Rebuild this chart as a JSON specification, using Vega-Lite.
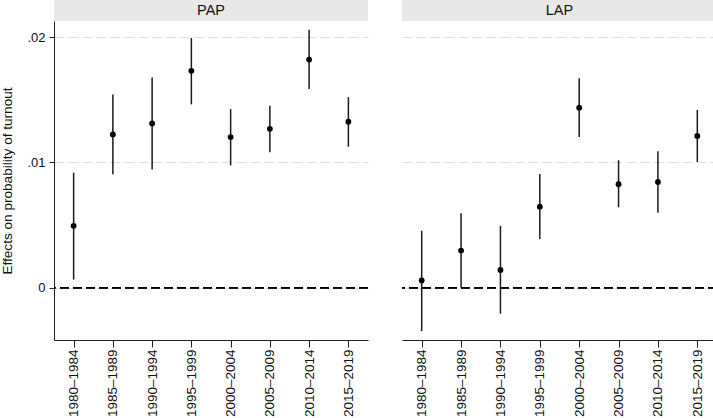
{
  "$schema": "https://vega.github.io/schema/vega-lite/v6.json",
  "padding": 0,
  "background": "white",
  "config": {
    "font": "Liberation Sans",
    "view": {"stroke": null},
    "concat": {"spacing": 32},
    "axis": {
      "labelFont": "Liberation Sans",
      "titleFont": "Liberation Sans",
      "labelFontSize": 13,
      "titleFontSize": 13.6,
      "titleFontWeight": "normal",
      "labelColor": "#111",
      "titleColor": "#111",
      "domainColor": "#222",
      "tickColor": "#222",
      "domainWidth": 1,
      "tickWidth": 1
    }
  },
  "datasets": {
    "d": [
      {"panel": "PAP", "period": "1980–1984", "est": 0.00494, "lo": 0.00064, "hi": 0.00919},
      {"panel": "PAP", "period": "1985–1989", "est": 0.01224, "lo": 0.00906, "hi": 0.01543},
      {"panel": "PAP", "period": "1990–1994", "est": 0.01312, "lo": 0.00943, "hi": 0.01679},
      {"panel": "PAP", "period": "1995–1999", "est": 0.01732, "lo": 0.01464, "hi": 0.01994},
      {"panel": "PAP", "period": "2000–2004", "est": 0.01203, "lo": 0.00977, "hi": 0.01426},
      {"panel": "PAP", "period": "2005–2009", "est": 0.01269, "lo": 0.01081, "hi": 0.01453},
      {"panel": "PAP", "period": "2010–2014", "est": 0.01822, "lo": 0.01586, "hi": 0.02061},
      {"panel": "PAP", "period": "2015–2019", "est": 0.01325, "lo": 0.01126, "hi": 0.01522},
      {"panel": "LAP", "period": "1980–1984", "est": 0.00058, "lo": -0.00347, "hi": 0.00455},
      {"panel": "LAP", "period": "1985–1989", "est": 0.00296, "lo": 0.0, "hi": 0.00594},
      {"panel": "LAP", "period": "1990–1994", "est": 0.00141, "lo": -0.00208, "hi": 0.00493},
      {"panel": "LAP", "period": "1995–1999", "est": 0.00647, "lo": 0.00389, "hi": 0.00908},
      {"panel": "LAP", "period": "2000–2004", "est": 0.01438, "lo": 0.01204, "hi": 0.01673},
      {"panel": "LAP", "period": "2005–2009", "est": 0.00826, "lo": 0.00642, "hi": 0.01018},
      {"panel": "LAP", "period": "2010–2014", "est": 0.00844, "lo": 0.00599, "hi": 0.01089},
      {"panel": "LAP", "period": "2015–2019", "est": 0.01212, "lo": 0.01004, "hi": 0.01419}
    ],
    "h": [{"panel": "PAP"}, {"panel": "LAP"}]
  },
  "hconcat": [
    {
      "spacing": 0,
      "vconcat": [
        {
          "width": 314,
          "height": 21,
          "view": {"fill": "#e8e8e8", "stroke": null},
          "data": {"name": "h"},
          "transform": [{"filter": "datum.panel == 'PAP'"}],
          "mark": {"type": "text", "fontSize": 14.5, "color": "#111", "font": "Liberation Sans"},
          "encoding": {"text": {"field": "panel"}}
        },
        {
          "width": 314,
          "height": 319,
          "data": {"name": "d"},
          "transform": [{"filter": "datum.panel == 'PAP'"}],
          "encoding": {
            "x": {
              "field": "period", "type": "ordinal", "sort": null,
              "scale": {"type": "point", "padding": 0.5},
              "axis": {"title": null, "labelAngle": -90, "labelFontSize": 13.5, "tickSize": 7, "labelPadding": 2, "grid": false}
            }
          },
          "layer": [
            {
              "mark": {"type": "rule", "color": "black", "strokeWidth": 1.1, "strokeDash": [9, 4]},
              "encoding": {"y": {"datum": 0, "type": "quantitative"}, "x": null}
            },
            {
              "mark": {"type": "rule", "color": "#1a1a1a", "strokeWidth": 1.5},
              "encoding": {
                "y": {
                  "field": "lo", "type": "quantitative",
                  "scale": {"domain": [-0.00418, 0.0213], "nice": false, "zero": false},
                  "axis": {
                    "title": "Effects on probability of turnout",
                    "values": [0, 0.01, 0.02],
                    "labelExpr": "datum.value == 0 ? '0' : replace(format(datum.value, '.2f'), '0.', '.')",
                    "tickSize": 5, "labelPadding": 4, "titlePadding": 12.4,
                    "grid": true, "gridColor": "#dedede", "gridDash": [10, 4], "gridWidth": 1
                  }
                },
                "y2": {"field": "hi"}
              }
            },
            {
              "mark": {"type": "circle", "color": "black", "opacity": 1, "size": 34},
              "encoding": {"y": {"field": "est", "type": "quantitative"}}
            }
          ]
        }
      ]
    },
    {
      "spacing": 0,
      "vconcat": [
        {
          "width": 315,
          "height": 21,
          "view": {"fill": "#e8e8e8", "stroke": null},
          "data": {"name": "h"},
          "transform": [{"filter": "datum.panel == 'LAP'"}],
          "mark": {"type": "text", "fontSize": 14.5, "color": "#111", "font": "Liberation Sans"},
          "encoding": {"text": {"field": "panel"}}
        },
        {
          "width": 315,
          "height": 319,
          "data": {"name": "d"},
          "transform": [{"filter": "datum.panel == 'LAP'"}],
          "encoding": {
            "x": {
              "field": "period", "type": "ordinal", "sort": null,
              "scale": {"type": "point", "padding": 0.5},
              "axis": {"title": null, "labelAngle": -90, "labelFontSize": 13.5, "tickSize": 7, "labelPadding": 2, "grid": false}
            }
          },
          "layer": [
            {
              "mark": {"type": "rule", "color": "black", "strokeWidth": 1.1, "strokeDash": [9, 4]},
              "encoding": {"y": {"datum": 0, "type": "quantitative"}, "x": null}
            },
            {
              "mark": {"type": "rule", "color": "#1a1a1a", "strokeWidth": 1.5},
              "encoding": {
                "y": {
                  "field": "lo", "type": "quantitative",
                  "scale": {"domain": [-0.00418, 0.0213], "nice": false, "zero": false},
                  "axis": {
                    "title": null, "labels": false, "ticks": false, "domain": false,
                    "values": [0, 0.01, 0.02],
                    "grid": true, "gridColor": "#dedede", "gridDash": [10, 4], "gridWidth": 1
                  }
                },
                "y2": {"field": "hi"}
              }
            },
            {
              "mark": {"type": "circle", "color": "black", "opacity": 1, "size": 34},
              "encoding": {"y": {"field": "est", "type": "quantitative"}}
            }
          ]
        }
      ]
    }
  ]
}
